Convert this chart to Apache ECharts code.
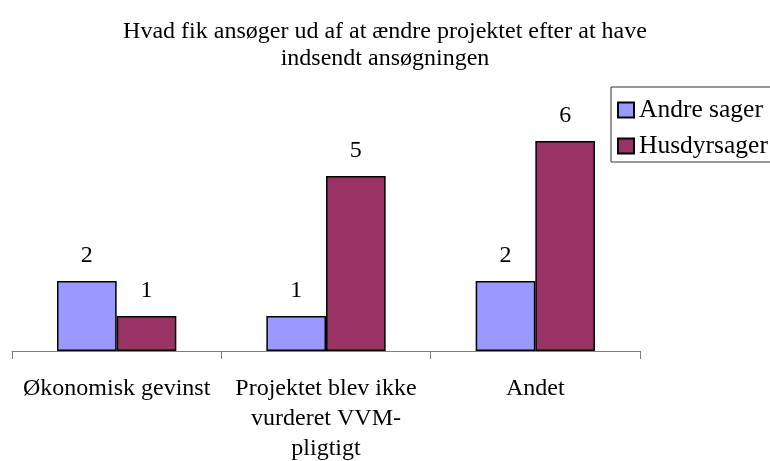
<!DOCTYPE html>
<html>
<head>
<meta charset="utf-8">
<script src="https://cdn.jsdelivr.net/npm/echarts@6/dist/echarts.min.js"></script>
<style>
  html, body { margin: 0; padding: 0; background: #fff; }
  #chart { width: 770px; height: 461px; }
</style>
</head>
<body>
<div id="chart"></div>
<script>
// data
var kategorier = ['Økonomisk gevinst', 'Projektet blev ikke\nvurderet VVM-\npligtigt', 'Andet'];
var andreSager = [2, 1, 2];
var husdyrSager = [1, 5, 6];
var titel = 'Hvad fik ansøger ud af at ændre projektet efter at have\nindsendt ansøgningen';

var serif = '"Liberation Serif", "DejaVu Serif", serif';
var myChart = echarts.init(document.getElementById('chart'));

var valueLabel = {
    show: true,
    position: 'top',
    distance: 13,
    color: '#000',
    fontFamily: serif,
    fontSize: 24
};

myChart.setOption({
    animation: false,
    title: {
        text: titel,
        left: 'center',
        top: 13,
        textStyle: {
            fontFamily: serif,
            fontSize: 24,
            fontWeight: 'normal',
            color: '#000',
            lineHeight: 27
        }
    },
    legend: {
        orient: 'vertical',
        left: 611,
        top: 87,
        padding: [10, 10, 3, 6],
        itemGap: 10,
        itemWidth: 16,
        itemHeight: 15,
        icon: 'rect',
        borderColor: '#333',
        borderWidth: 1,
        textStyle: {
            fontFamily: serif,
            fontSize: 25.5,
            color: '#000'
        },
        data: ['Andre sager', 'Husdyrsager']
    },
    grid: {
        left: 12,
        right: 130,
        top: 141,
        bottom: 110,
        outerBoundsMode: 'none'
    },
    xAxis: {
        type: 'category',
        data: kategorier,
        axisLine: { lineStyle: { color: '#808080', width: 1 } },
        axisTick: { show: true, length: 8, inside: false, lineStyle: { color: '#808080' } },
        axisLabel: {
            margin: 23,
            color: '#000',
            fontFamily: serif,
            fontSize: 24,
            lineHeight: 30,
            interval: 0
        }
    },
    yAxis: {
        type: 'value',
        min: 0,
        max: 6,
        show: false,
        splitLine: { show: false }
    },
    series: [
        {
            name: 'Andre sager',
            type: 'bar',
            data: andreSager,
            barGap: '0%',
            barCategoryGap: '43%',
            itemStyle: { color: '#9999FF', borderColor: '#000', borderWidth: 1.5 },
            label: valueLabel
        },
        {
            name: 'Husdyrsager',
            type: 'bar',
            data: husdyrSager,
            itemStyle: { color: '#993366', borderColor: '#000', borderWidth: 1.5 },
            label: valueLabel
        }
    ]
});
</script>
</body>
</html>
